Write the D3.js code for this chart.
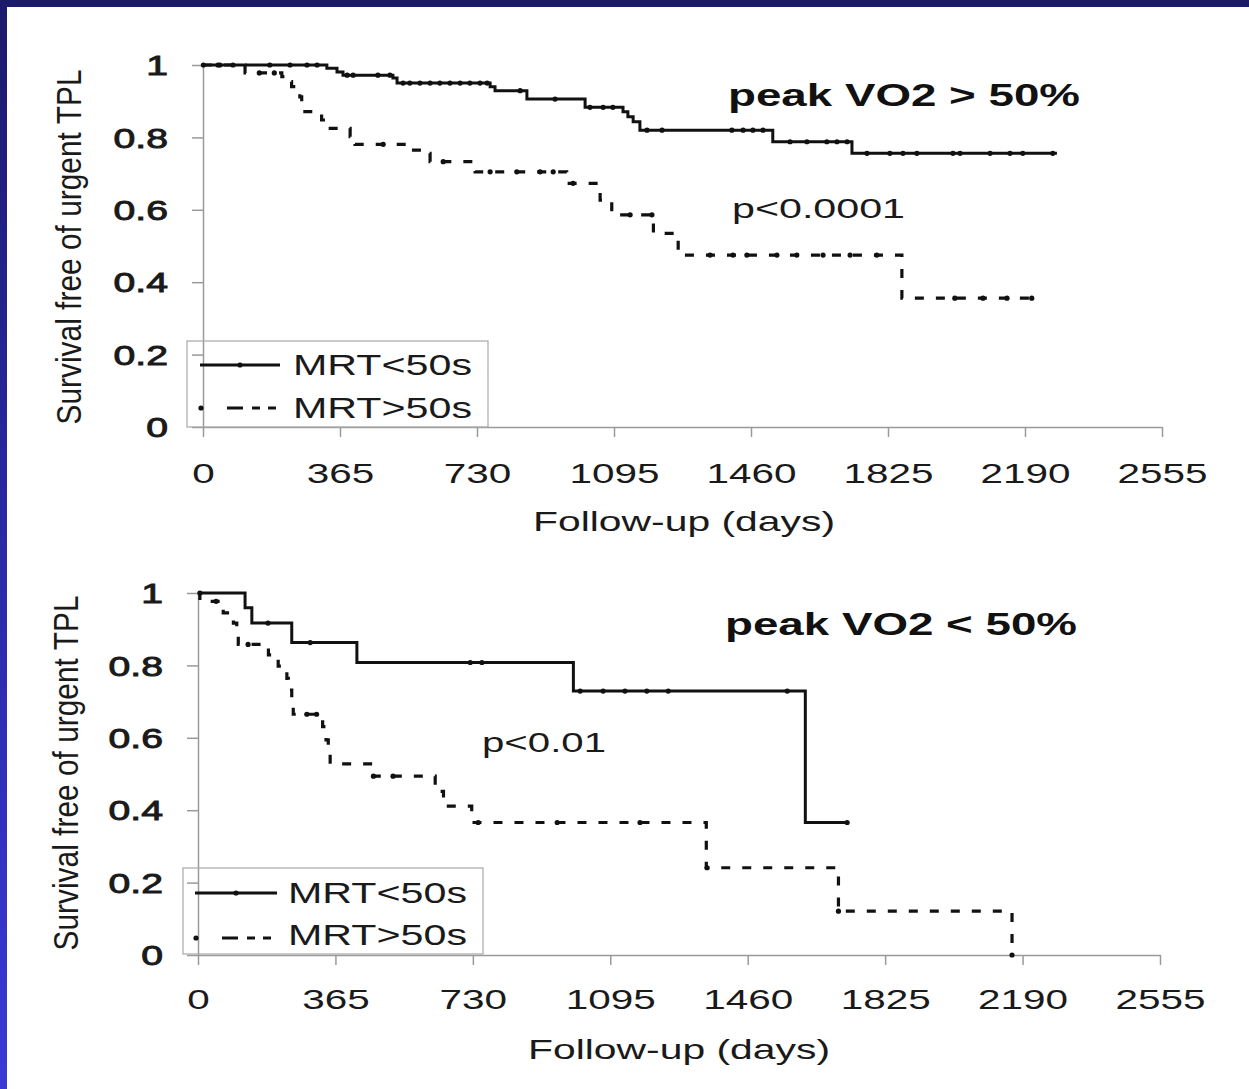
<!DOCTYPE html>
<html><head><meta charset="utf-8">
<script src="https://cdn.jsdelivr.net/npm/d3@7"></script>
<style>html,body{margin:0;padding:0;background:#fff;}svg{display:block;}</style>
</head><body>
<svg id="c" width="1249" height="1089"></svg>
<script>
// ---------- DATA ----------
const xTickValues = [0, 365, 730, 1095, 1460, 1825, 2190, 2555];
const xTickLabels = ["0", "365", "730", "1095", "1460", "1825", "2190", "2555"];
const yTickValues = [0, 0.2, 0.4, 0.6, 0.8, 1];
const yTickLabels = ["0", "0.2", "0.4", "0.6", "0.8", "1"];
const seriesNames = ["MRT<50s", "MRT>50s"];
const panelTitles = ["peak VO2 > 50%", "peak VO2 < 50%"];
const pValues = ["p<0.0001", "p<0.01"];
const xAxisTitle = "Follow-up (days)";
const yAxisTitle = "Survival free of urgent TPL";

// Top panel (peak VO2 > 50%)
const topSolidTimes = [0, 330, 357, 373, 506, 517, 765, 778, 863, 1018, 1119, 1132, 1146, 1164, 1518, 1729, 2275];
const topSolidSurv  = [1, 0.991, 0.981, 0.972, 0.964, 0.950, 0.940, 0.929, 0.906, 0.883, 0.871, 0.857, 0.843, 0.820, 0.788, 0.756, 0.756];
const topSolidCensor = [1, 45, 80, 178, 232, 277, 304, 384, 400, 466, 498, 533, 551, 578, 605, 631, 658, 685, 711, 738, 757, 845, 938, 1031, 1066, 1092, 1183, 1223, 1409, 1439, 1465, 1492, 1564, 1609, 1662, 1689, 1716, 1769, 1830, 1865, 1902, 1998, 2017, 2097, 2150, 2184, 2264];
const topDashTimes = [0, 112, 210, 223, 236, 250, 258, 263, 266, 316, 325, 392, 405, 551, 587, 605, 725, 969, 1058, 1089, 1200, 1266, 1862, 2211];
const topDashSurv  = [1, 0.978, 0.968, 0.954, 0.940, 0.926, 0.912, 0.895, 0.871, 0.848, 0.825, 0.802, 0.781, 0.765, 0.756, 0.733, 0.705, 0.673, 0.627, 0.586, 0.535, 0.475, 0.356, 0.356];
const topDashCensor = [40, 150, 190, 480, 640, 765, 836, 898, 933, 986, 1138, 1196, 1351, 1412, 1449, 1529, 1582, 1652, 1724, 1795, 2003, 2078, 2142, 2208];

// Bottom panel (peak VO2 < 50%)
const botSolidTimes = [0, 125, 143, 249, 422, 997, 1613, 1724];
const botSolidSurv  = [1, 0.959, 0.917, 0.863, 0.808, 0.729, 0.366, 0.366];
const botSolidCensor = [5, 186, 298, 723, 754, 1015, 1076, 1134, 1192, 1249, 1565, 1724];
const botDashTimes = [0, 5, 67, 94, 103, 107, 187, 213, 236, 240, 249, 253, 331, 340, 346, 351, 466, 630, 652, 727, 1350, 1701, 2162];
const botDashSurv  = [1, 0.977, 0.945, 0.917, 0.884, 0.858, 0.829, 0.798, 0.764, 0.732, 0.695, 0.665, 0.631, 0.594, 0.563, 0.528, 0.494, 0.452, 0.411, 0.366, 0.241, 0.121, 0.0];
const botDashCensor = [48, 133, 289, 315, 466, 518, 744, 954, 1174, 1352, 1701, 2162];

// ---------- DRAW ----------
const svg = d3.select("#c");
const FONT = "'Liberation Sans', Arial, Helvetica, sans-serif";
const INK = "#111";

// frame (blue slide border)
const defs = svg.append("defs");
const g1 = defs.append("linearGradient").attr("id","lg").attr("x1",0).attr("y1",0).attr("x2",0).attr("y2",1);
g1.append("stop").attr("offset","0%").attr("stop-color","#1b1a6b");
g1.append("stop").attr("offset","50%").attr("stop-color","#2a29a6");
g1.append("stop").attr("offset","100%").attr("stop-color","#3a39d6");
svg.append("rect").attr("x",0).attr("y",0).attr("width",7).attr("height",1089).attr("fill","url(#lg)");
svg.append("rect").attr("x",0).attr("y",0).attr("width",1249).attr("height",7).attr("fill","#1b1a6b");

const panels = [
  {x0:203, x1:1162, yTop:65, yBot:427, solid:[topSolidTimes, topSolidSurv, topSolidCensor], dash:[topDashTimes, topDashSurv, topDashCensor],
   title:{x:728,y:106}, p:{x:732,y:218,w:173}, legend:{bx:187,by:341,bw:301,bh:86, lx0:200, lx1:280, tx:293, r1:365, r2:408, b1:375, b2:418},
   yTitle:{x:69,y:247}, xTitleY:531, xTitleX:684, xTickY:483},
  {x0:198, x1:1160, yTop:593, yBot:955, solid:[botSolidTimes, botSolidSurv, botSolidCensor], dash:[botDashTimes, botDashSurv, botDashCensor],
   title:{x:725,y:635}, p:{x:482,y:752,w:124}, legend:{bx:183,by:868,bw:300,bh:86, lx0:195, lx1:277, tx:288, r1:893, r2:938, b1:903, b2:945},
   yTitle:{x:66,y:773}, xTitleY:1059, xTitleX:679, xTickY:1009}
];

panels.forEach((P, i) => {
  const x = d3.scaleLinear().domain([0, 2555]).range([P.x0, P.x1]);
  const y = d3.scaleLinear().domain([0, 1]).range([P.yBot, P.yTop]);
  const g = svg.append("g");

  // y axis
  const ya = g.append("g").attr("transform", `translate(${P.x0},0)`)
    .call(d3.axisLeft(y).tickValues(yTickValues).tickSize(11).tickSizeOuter(0)
      .tickFormat((d, k) => yTickLabels[k]));
  ya.select(".domain").attr("stroke", "#9a9a9a").attr("stroke-width", 1.5);
  ya.selectAll(".tick line").attr("stroke", "#9a9a9a").attr("stroke-width", 1.5);
  ya.selectAll(".tick text").attr("font-family", FONT).attr("font-size", 27).attr("fill", "#1a1a1a")
    .attr("stroke", "#1a1a1a").attr("stroke-width", 0.9)
    .attr("x", -35 / 1.45).attr("dy", "0.36em")
    .attr("transform", "scale(1.45,1)");

  // x axis
  const xa = g.append("g").attr("transform", `translate(0,${P.yBot})`)
    .call(d3.axisBottom(x).tickValues(xTickValues).tickSize(10).tickSizeOuter(0)
      .tickFormat((d, k) => xTickLabels[k]));
  xa.select(".domain").attr("stroke", "#9a9a9a").attr("stroke-width", 1.5);
  xa.selectAll(".tick line").attr("stroke", "#9a9a9a").attr("stroke-width", 1.5);
  xa.selectAll(".tick text").attr("font-family", FONT).attr("font-size", 28).attr("fill", "#1a1a1a")
    .attr("y", P.xTickY - P.yBot).attr("dy", 0)
    .attr("textLength", (d, k) => xTickLabels[k].length * 22.5).attr("lengthAdjust", "spacingAndGlyphs");

  // axis titles
  g.append("text").attr("x", P.xTitleX).attr("y", P.xTitleY).attr("text-anchor", "middle")
    .attr("font-family", FONT).attr("font-size", 28).attr("fill", "#1a1a1a")
    .attr("textLength", 302).attr("lengthAdjust", "spacingAndGlyphs").text(xAxisTitle);
  g.append("text").attr("transform", `translate(${P.yTitle.x},${P.yTitle.y}) rotate(-90) scale(1,1.15)`)
    .attr("text-anchor", "middle").attr("dy", "0.35em")
    .attr("font-family", FONT).attr("font-size", 30).attr("fill", "#1a1a1a")
    .attr("textLength", 355).attr("lengthAdjust", "spacingAndGlyphs").text(yAxisTitle);

  // legend box
  const L = P.legend;
  g.append("rect").attr("x", L.bx).attr("y", L.by).attr("width", L.bw).attr("height", L.bh)
    .attr("fill", "none").attr("stroke", "#a8a8a8").attr("stroke-width", 1.2);

  // curves
  const line = d3.line().curve(d3.curveStepAfter).x(d => x(d[0])).y(d => y(d[1]));
  const drawSeries = (S, dashed) => {
    const [t, s, c] = S;
    const pts = t.map((tt, k) => [tt, s[k]]);
    g.append("path").datum(pts).attr("d", line).attr("fill", "none").attr("stroke", INK)
      .attr("stroke-width", dashed ? 3.2 : 3)
      .attr("stroke-dasharray", dashed ? "9,12" : null);
    const survAt = tt => { let v = s[0]; for (let k = 0; k < t.length; k++) { if (t[k] <= tt) v = s[k]; } return v; };
    g.selectAll(null).data(c).enter().append("circle")
      .attr("cx", d => x(d)).attr("cy", d => y(survAt(d))).attr("r", 2.6).attr("fill", INK);
  };
  drawSeries(P.solid, false);
  drawSeries(P.dash, true);

  // legend entries
  g.append("line").attr("x1", L.lx0).attr("x2", L.lx1).attr("y1", L.r1).attr("y2", L.r1)
    .attr("stroke", INK).attr("stroke-width", 3);
  g.append("circle").attr("cx", (L.lx0 + L.lx1) / 2).attr("cy", L.r1).attr("r", 2.6).attr("fill", INK);
  g.append("line").attr("x1", L.lx0).attr("x2", L.lx1).attr("y1", L.r2).attr("y2", L.r2)
    .attr("stroke", INK).attr("stroke-width", 3).attr("stroke-dasharray", "3,24,16,9,8,8,8,6,3");
  g.append("circle").attr("cx", L.lx0 + 1).attr("cy", L.r2).attr("r", 2.6).attr("fill", INK);
  [[seriesNames[0], L.b1], [seriesNames[1], L.b2]].forEach(([txt, yy]) => {
    g.append("text").attr("x", L.tx).attr("y", yy).attr("font-family", FONT).attr("font-size", 30)
      .attr("fill", "#1a1a1a").attr("textLength", 179).attr("lengthAdjust", "spacingAndGlyphs").text(txt);
  });

  // panel title and p value
  g.append("text").attr("x", P.title.x).attr("y", P.title.y).attr("font-family", FONT).attr("font-size", 31)
    .attr("font-weight", "bold").attr("fill", "#111").attr("textLength", 352).attr("lengthAdjust", "spacingAndGlyphs")
    .text(panelTitles[i]);
  g.append("text").attr("x", P.p.x).attr("y", P.p.y).attr("font-family", FONT).attr("font-size", 28)
    .attr("fill", "#1a1a1a").attr("textLength", P.p.w).attr("lengthAdjust", "spacingAndGlyphs")
    .text(pValues[i]);
});
</script>
</body></html>
